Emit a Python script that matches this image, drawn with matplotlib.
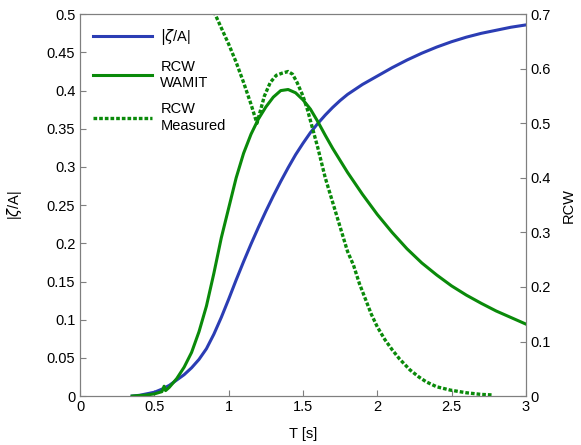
import matplotlib
matplotlib.use('Agg')
import matplotlib.pyplot as plt
import numpy as np
from matplotlib.ticker import FuncFormatter

# |zeta/A| response (left axis)
t_zeta = [0.35, 0.40, 0.45, 0.50, 0.55, 0.60, 0.65, 0.70, 0.75, 0.80, 0.85, 0.90, 0.95,
          1.00, 1.05, 1.10, 1.15, 1.20, 1.25, 1.30, 1.35, 1.40, 1.45, 1.50, 1.55, 1.60,
          1.65, 1.70, 1.75, 1.80, 1.90, 2.00, 2.10, 2.20, 2.30, 2.40, 2.50, 2.60, 2.70,
          2.80, 2.90, 3.00]
zeta = [0.000, 0.001, 0.003, 0.005, 0.009, 0.014, 0.021, 0.028, 0.037, 0.048, 0.062, 0.081,
        0.103, 0.127, 0.152, 0.176, 0.199, 0.221, 0.242, 0.262, 0.281, 0.299, 0.316, 0.331,
        0.345, 0.357, 0.368, 0.378, 0.387, 0.395, 0.408, 0.419, 0.430, 0.440, 0.449, 0.457,
        0.464, 0.470, 0.475, 0.479, 0.483, 0.486]

# RCW from WAMIT (right axis)
t_wamit = [0.35, 0.45, 0.50, 0.55, 0.565, 0.575, 0.60, 0.65, 0.70, 0.75, 0.80, 0.85, 0.90,
           0.95, 1.00, 1.05, 1.10, 1.15, 1.20, 1.25, 1.30, 1.35, 1.40, 1.45, 1.50, 1.55,
           1.60, 1.65, 1.70, 1.80, 1.90, 2.00, 2.10, 2.20, 2.30, 2.40, 2.50, 2.60, 2.70,
           2.80, 2.90, 3.00]
rcw_wamit = [0.000, 0.002, 0.004, 0.008, 0.018, 0.010, 0.016, 0.032, 0.053, 0.080, 0.118,
             0.165, 0.225, 0.290, 0.345, 0.400, 0.445, 0.480, 0.508, 0.530, 0.548, 0.560,
             0.562, 0.556, 0.543, 0.526, 0.503, 0.478, 0.454, 0.410, 0.370, 0.333, 0.300,
             0.270, 0.244, 0.222, 0.202, 0.185, 0.170, 0.156, 0.144, 0.132]

# RCW measured (right axis)
t_meas = [0.90, 0.95, 1.00, 1.05, 1.10, 1.15, 1.19, 1.21, 1.24, 1.28, 1.32, 1.36, 1.40,
          1.43, 1.46, 1.50, 1.53, 1.56, 1.60, 1.65, 1.70, 1.75, 1.80, 1.84, 1.88, 1.92,
          1.96, 2.00, 2.05, 2.10, 2.15, 2.22, 2.28, 2.33, 2.40, 2.49, 2.60, 2.70, 2.78]
rcw_meas = [0.705, 0.675, 0.645, 0.612, 0.575, 0.535, 0.500, 0.520, 0.550, 0.575, 0.588,
            0.592, 0.595, 0.590, 0.575, 0.550, 0.525, 0.495, 0.455, 0.400, 0.355, 0.310,
            0.265, 0.240, 0.206, 0.178, 0.150, 0.127, 0.104, 0.085, 0.068, 0.048, 0.035,
            0.026, 0.017, 0.011, 0.006, 0.003, 0.002]

blue = '#2b3db4'
green = '#0a8a0a'
spine_gray = '#7f7f7f'

plt.rcParams['font.family'] = ['Liberation Sans', 'DejaVu Sans']
plt.rcParams['font.size'] = 10.5

fig = plt.figure(figsize=(5.81, 4.45), dpi=100)
ax = fig.add_axes([0.138, 0.110, 0.767, 0.858])
ax2 = ax.twinx()

l1, = ax.plot(t_zeta, zeta, color=blue, lw=2.2, label=r'$|\zeta$/A|')
l2, = ax2.plot(t_wamit, rcw_wamit, color=green, lw=2.2, label='RCW\nWAMIT')
l3, = ax2.plot(t_meas, rcw_meas, color=green, lw=2.4, ls=(0, (1.1, 0.6)), label='RCW\nMeasured')

ax.set_xlim(0, 3)
ax.set_ylim(0, 0.5)
ax2.set_ylim(0, 0.7)
ax.set_xticks(np.arange(0, 3.01, 0.5))
ax.set_yticks(np.arange(0, 0.501, 0.05))
ax2.set_yticks(np.arange(0, 0.701, 0.1))
fmt = FuncFormatter(lambda v, p: '%g' % round(v, 3))
ax.xaxis.set_major_formatter(fmt)
ax.yaxis.set_major_formatter(fmt)
ax2.yaxis.set_major_formatter(fmt)

for a in (ax, ax2):
    for s in a.spines.values():
        s.set_color(spine_gray)
    a.tick_params(direction='in', length=4, color=spine_gray, labelcolor='black', labelsize=10.5)
ax.tick_params(axis='x', pad=3)

ax.set_xlabel('T [s]', fontsize=10.5, labelpad=9)
ax.set_ylabel(r'|$\zeta$/A|', fontsize=10.5, labelpad=16)
ax2.set_ylabel('RCW', fontsize=10.5, labelpad=8)

ax.legend(handles=[l1, l2, l3], loc='upper left', frameon=False, handlelength=4.0,
          fontsize=10.5, labelspacing=0.85, borderaxespad=0.5, handletextpad=0.6)

fig.savefig('out.png', dpi=100)
